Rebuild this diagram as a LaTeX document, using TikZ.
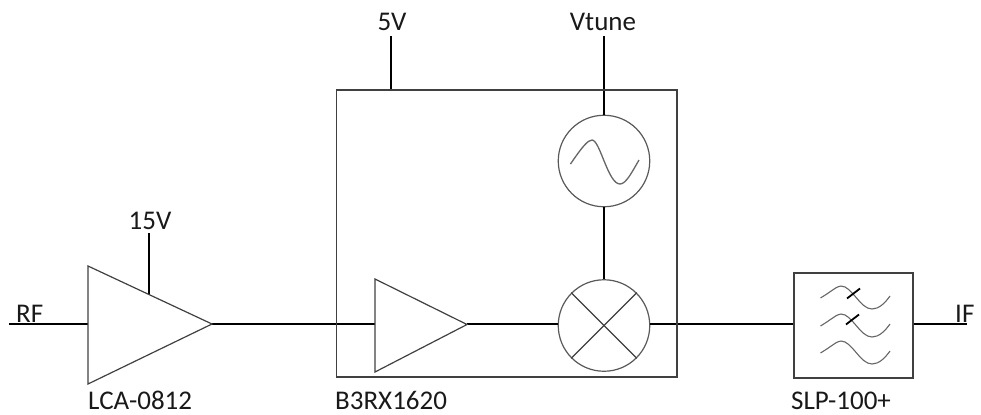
\documentclass[tikz,border=0pt]{standalone}
\usepackage{fontspec}
\setmainfont{Carlito}
\tikzset{
  x=1bp,y=-1bp,
  thin line/.style={draw=black!75,line width=1.2bp},
  wire/.style={draw=black,line width=2bp},
  lbl/.style={inner sep=0pt,anchor=base,font=\fontsize{27bp}{28bp}\selectfont,text=black!90},
  wave/.style={draw=black!60,line width=1.1bp},
  blip/.style={draw=black,line width=1.8bp},
  ccl/.style={circle,draw=black!65,line width=1.2bp,minimum size=91.5bp,inner sep=0pt,fill=white},
}
\begin{document}
\begin{tikzpicture}
\useasboundingbox (0,0) rectangle (981,414);
\coordinate (rfin) at (9,324);
\coordinate (t1a) at (88,266); \coordinate (t1b) at (88,384); \coordinate (t1c) at (212,324);
\coordinate (t1in) at (88,324); \coordinate (t1sup) at (149,295); \coordinate (v15) at (149,233);
\coordinate (t2a) at (375,279); \coordinate (t2b) at (375,372); \coordinate (t2c) at (467,324.5);
\coordinate (t2in) at (375,324);
\coordinate (b5) at (391,90); \coordinate (v5) at (391,36);
\coordinate (vt) at (604,36);
\coordinate (ifout) at (967,324);
\node[ccl] (osc) at (604,161) {};
\node[ccl] (mix) at (604,325.5) {};
\node[draw=black!75,line width=1.2bp,minimum width=119bp,minimum height=105bp,inner sep=0pt,fill=white] (flt) at (853.5,325.5) {};
\draw[wire] (rfin) -- (t1in);
\draw[wire] (v15) -- (t1sup);
\draw[wire] (t1c) -- (t2in);
\draw[wire] (t2c |- t2in) -- (mix.west |- t2in);
\draw[wire] (mix.east |- t2in) -- (flt.west |- t2in);
\draw[wire] (flt.east |- t2in) -- (ifout);
\draw[wire] (v5) -- (b5);
\draw[wire] (vt) -- (osc.north);
\draw[wire] (osc.south) -- (mix.north);
\draw[thin line] (336.5,90) rectangle (677,377);
\draw[thin line] (t1a) -- (t1c) -- (t1b) -- cycle;
\draw[thin line] (t2a) -- (t2c) -- (t2b) -- cycle;
\draw[thin line] (mix.north west) -- (mix.south east);
\draw[thin line] (mix.north east) -- (mix.south west);
\draw[wave,line width=1.3bp] (570.5,164) .. controls (582,147) and (588,140) .. (592,140) .. controls (600,140) and (608,184) .. (620,184) .. controls (626,184) and (632,172) .. (639,160);
\foreach \dy in {0,28,55}{
\draw[wave] (820.5,298+\dy) .. controls (832,291+\dy) and (837,286+\dy) .. (841,286+\dy) .. controls (852,286+\dy) and (860,309+\dy) .. (872,309+\dy) .. controls (879,309+\dy) and (885,303+\dy) .. (890,296+\dy);
}
\draw[blip] (847,298.5) -- (860,288.5);
\draw[blip] (846,324.5) -- (859,314.5);
\node[lbl] (l5) at (392,30) {5V};
\node[lbl] (lvt) at (603,30) {Vtune};
\node[lbl] (l15) at (150,229) {15V};
\node[lbl,anchor=base west] (lrf) at (16,322) {RF};
\node[lbl,anchor=base west] (lif) at (955,322) {IF};
\node[lbl,anchor=base west] (llca) at (88,409) {LCA-0812};
\node[lbl,anchor=base west] (lb3) at (335,409) {B3RX1620};
\node[lbl,anchor=base west] (lslp) at (791,409) {SLP-100+};
\end{tikzpicture}
\end{document}
